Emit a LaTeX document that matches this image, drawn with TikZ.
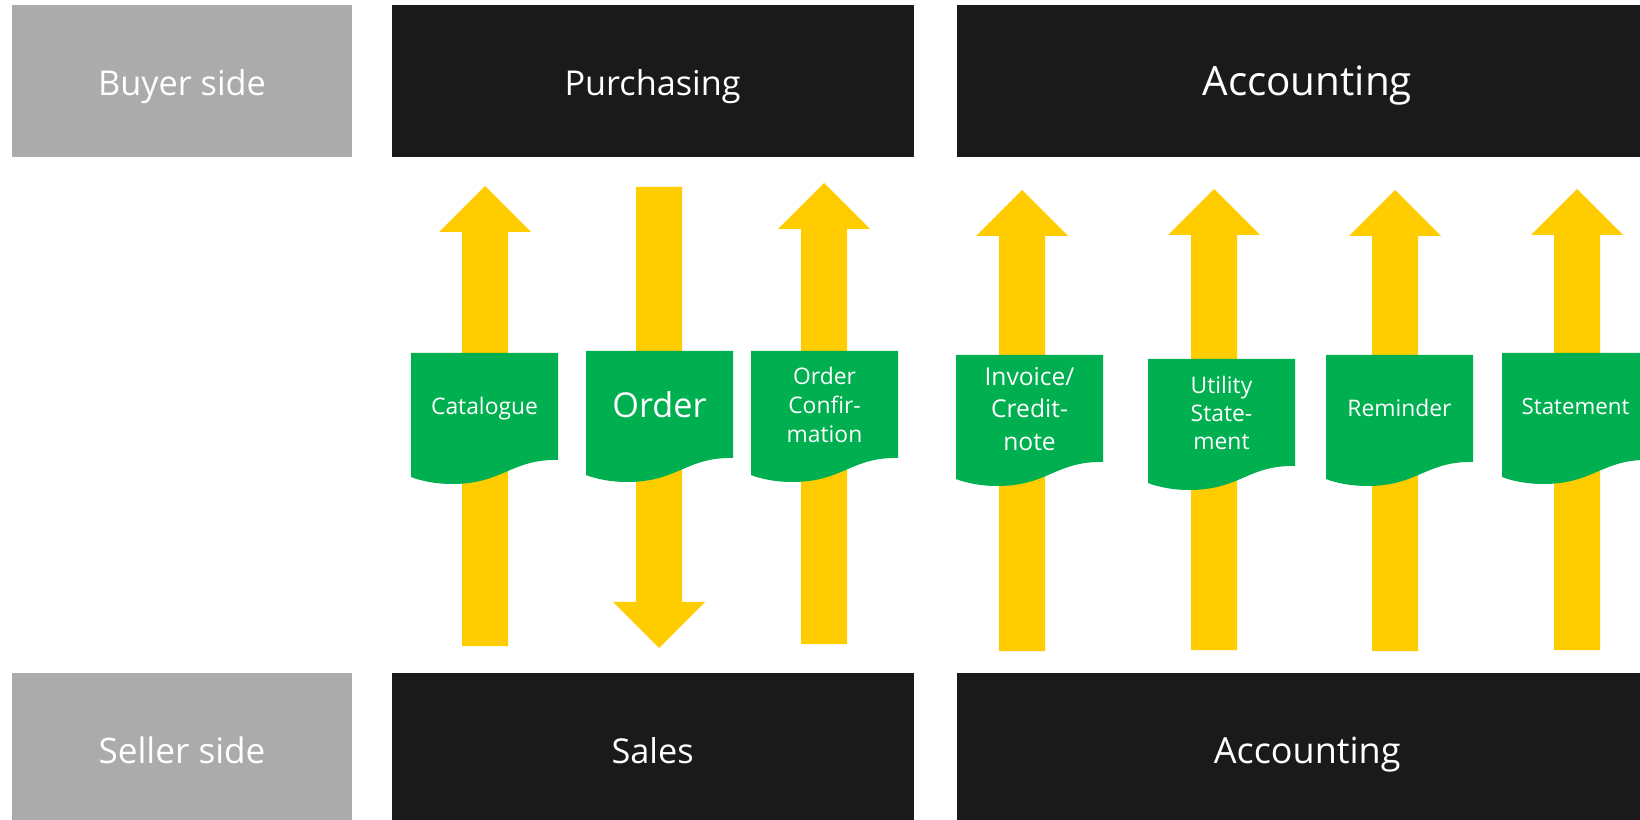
\documentclass[tikz,border=0pt]{standalone}
\usepackage{fontspec}
\setmainfont{Open Sans}
\usetikzlibrary{positioning}

\definecolor{sidegrey}{HTML}{ABABAB}
\definecolor{deptdark}{HTML}{1A1A1A}
\definecolor{flowyellow}{HTML}{FFCC00}
\definecolor{docgreen}{HTML}{00B050}

\tikzset{
  sidebox/.style={rectangle, fill=sidegrey, minimum width=6.8cm, minimum height=3.04cm, text=white, text height=16.5pt, text depth=0pt, font=\fontsize{19.5}{23}\selectfont},
  deptbox/.style={rectangle, fill=deptdark, minimum height=3.04cm, text=white, text height=16.5pt, text depth=0pt, font=\fontsize{19.5}{23}\selectfont},
  doctext/.style={text=white, align=center, font=\fontsize{13}{16}\selectfont},
  docone/.style={text height=9.1pt, text depth=0pt},
  flow/.style={fill=flowyellow},
  docfill/.style={fill=docgreen}
}

% yellow block arrows: x, tip, bottom  /  x, top, tip
\newcommand{\flowup}[3]{\fill[flow] (#1-23,#3) -- (#1-23,#2+46) -- (#1-46,#2+46) -- (#1,#2) -- (#1+46,#2+46) -- (#1+23,#2+46) -- (#1+23,#3) -- cycle;}
\newcommand{\flowdown}[3]{\fill[flow] (#1-23,#2) -- (#1-23,#3-46) -- (#1-46,#3-46) -- (#1,#3) -- (#1+46,#3-46) -- (#1+23,#3-46) -- (#1+23,#2) -- cycle;}
% green document: name, left, top, options, text
\newcommand{\docnode}[5]{\fill[docfill] (#2,#3) -- (#2+147,#3) -- (#2+147,#3+107) .. controls (#2+100,#3+106) and (#2+92,#3+131) .. (#2+41,#3+131) .. controls (#2+25,#3+131) and (#2+10,#3+128) .. (#2,#3+124) -- cycle;
  \node[doctext, #4] (#1) at (#2+73.5,#3+54) {#5};}

\begin{document}
\begin{tikzpicture}[x=0.02cm, y=-0.02cm]
\path[use as bounding box, clip] (0,0) rectangle (1640,820);

% Buyer row
\node[sidebox] (buyer) at (182,81) {Buyer side};
\node[deptbox, minimum width=10.44cm, right=0.78cm of buyer] (purch) {Purchasing};
\node[deptbox, minimum width=14cm, right=0.86cm of purch, font=\fontsize{23}{27}\selectfont, text height=17pt] (acctop) {Accounting};

% Seller row
\node[sidebox, below=10.3cm of buyer, font=\fontsize{20}{24}\selectfont] (seller) {Seller side};
\node[deptbox, minimum width=10.44cm, right=0.78cm of seller] (sales) {Sales};
\node[deptbox, minimum width=14cm, right=0.86cm of sales, font=\fontsize{20.5}{24}\selectfont] (accbot) {Accounting};

% Flows
\flowup{485}{186}{646}
\flowdown{659}{187}{648}
\flowup{824}{183}{644}
\flowup{1022}{190}{651}
\flowup{1214}{189}{650}
\flowup{1395}{190}{651}
\flowup{1577}{189}{650}

% Documents
\docnode{catalogue}{411}{353}{docone}{Catalogue}
\docnode{order}{586}{351}{docone, text height=14.8pt, font=\fontsize{19.5}{23}\selectfont}{Order}
\docnode{confirm}{751}{351}{font=\fontsize{13}{16.7}\selectfont}{Order\\Confir-\\mation}
\docnode{invoice}{956}{355}{font=\fontsize{14}{18.4}\selectfont}{Invoice/\\Credit-\\note}
\docnode{utility}{1148}{359}{font=\fontsize{13}{16}\selectfont}{Utility\\State-\\ment}
\docnode{reminder}{1326}{355}{docone}{Reminder}
\docnode{statement}{1502}{353}{docone, font=\fontsize{12.7}{16}\selectfont}{Statement}
\end{tikzpicture}
\end{document}
